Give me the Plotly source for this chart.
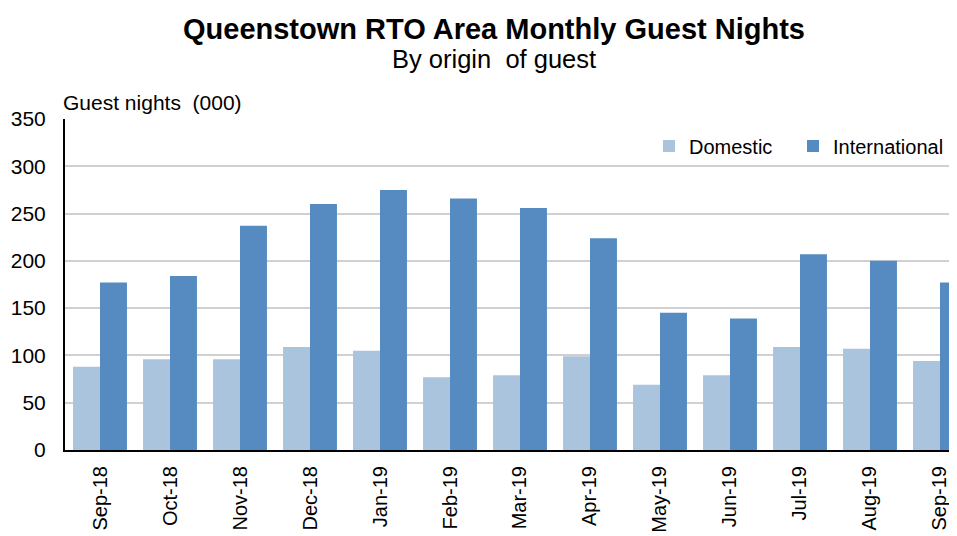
import plotly.graph_objects as go

months = ["Sep-18", "Oct-18", "Nov-18", "Dec-18", "Jan-19", "Feb-19", "Mar-19",
          "Apr-19", "May-19", "Jun-19", "Jul-19", "Aug-19", "Sep-19"]
domestic = [88, 96, 96, 109, 105, 77, 79, 99, 69, 79, 109, 107, 94]
international = [177, 184, 237, 260, 275, 266, 256, 224, 145, 139, 207, 200, 177]

FONT = "Liberation Sans, Arial, sans-serif"
OFF = 8  # default page body margin
W, H = 957 - OFF, 536 - OFF
L, R, T, B = 65 - OFF, 0, 119 - OFF, 536 - 450
pw, ph = W - L - R, H - T - B


def px(x):
    return (x - OFF - L) / pw


def py(y):
    return 1 - (y - OFF - T) / ph


fig = go.Figure()
fig.add_trace(go.Bar(name="Domestic", x=months, y=domestic, legend="legend",
                     marker=dict(color="#abc4de", line=dict(width=0))))
fig.add_trace(go.Bar(name="International", x=months, y=international, legend="legend2",
                     marker=dict(color="#558bc0", line=dict(width=0))))

leg_common = dict(orientation="h", xanchor="left", y=py(146), yanchor="middle",
                  font=dict(size=20, family=FONT), bgcolor="rgba(0,0,0,0)", itemwidth=30)

fig.update_layout(
    width=W, height=H,
    paper_bgcolor="white", plot_bgcolor="white",
    margin=dict(l=L, r=R, t=T, b=B, autoexpand=False),
    barmode="group", bargap=0.23, bargroupgap=0,
    font=dict(family=FONT, color="black"),
    showlegend=True,
    legend=dict(x=px(649), **leg_common),
    legend2=dict(x=px(793), **leg_common),
    annotations=[
        dict(text="<b>Queenstown RTO Area Monthly Guest Nights</b>", x=px(494), y=py(29),
             xref="paper", yref="paper", showarrow=False, xanchor="center", yanchor="middle",
             font=dict(size=29, family=FONT)),
        dict(text="By origin  of guest", x=px(494), y=py(59), xref="paper", yref="paper",
             showarrow=False, xanchor="center", yanchor="middle",
             font=dict(size=25.5, family=FONT)),
        dict(text="Guest nights  (000)", x=px(61), y=py(103), xref="paper", yref="paper",
             showarrow=False, xanchor="left", yanchor="middle",
             font=dict(size=21, family=FONT)),
    ],
)

fig.update_yaxes(range=[0, 350], dtick=50, showgrid=True, gridcolor="#d0d0d0",
                 gridwidth=1.5, showline=True, linecolor="black", linewidth=2,
                 ticks="", tickfont=dict(size=21, family=FONT), ticklabelstandoff=13,
                 zeroline=False, automargin=False)
fig.update_xaxes(range=[-0.5, 12.243], showline=True, linecolor="black", linewidth=2,
                 tickangle=-90, tickfont=dict(size=20, family=FONT), ticks="",
                 ticklabelstandoff=6, automargin=False)

fig.write_html("out.html")
